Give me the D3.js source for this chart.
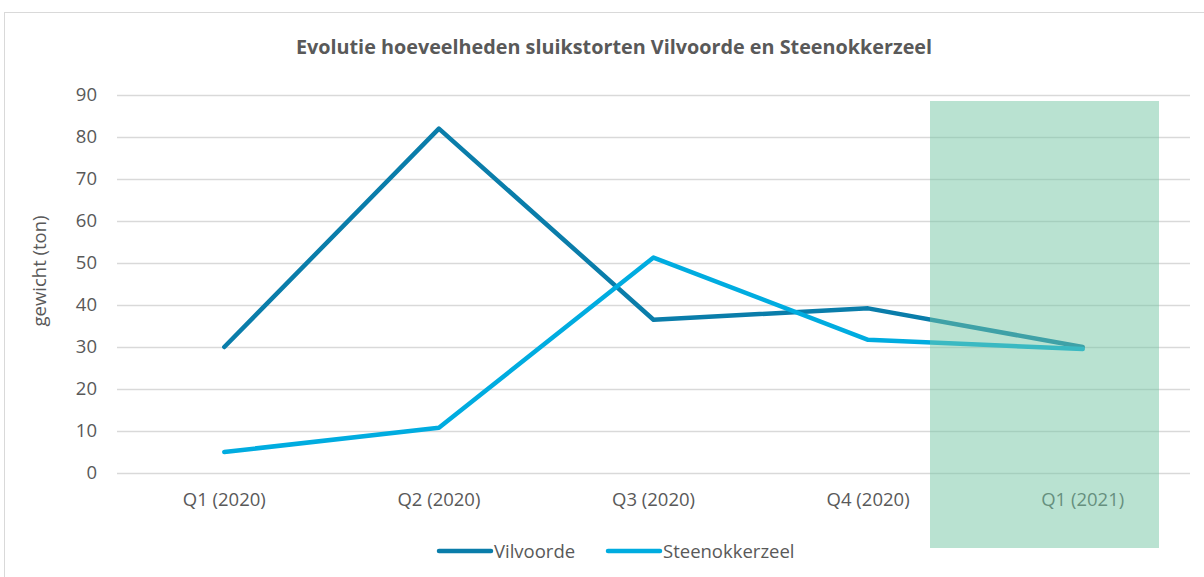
<!DOCTYPE html>
<html>
<head>
<meta charset="utf-8">
<script src="https://cdn.jsdelivr.net/npm/d3@7"></script>
<style>
  body { margin: 0; background: #fff; }
  text { font-family: "Open Sans", sans-serif; fill: #595959; }
</style>
</head>
<body>
<div id="chart-area"></div>
<script>
// data
var quarters = ["Q1 (2020)", "Q2 (2020)", "Q3 (2020)", "Q4 (2020)", "Q1 (2021)"];
var vilvoorde = [30, 82, 36.5, 39.2, 30];
var steenokkerzeel = [5, 10.8, 51.3, 31.7, 29.5];
var yTicks = [0, 10, 20, 30, 40, 50, 60, 70, 80, 90];
var seriesNames = ["Vilvoorde", "Steenokkerzeel"];
var colors = ["#0a7daa", "#00ace0"];

var W = 1204, H = 577;
var margin = { left: 117, right: 14, top: 95, bottom: 104 };
var labelSize = "18.5px";

var svg = d3.select("#chart-area")
    .append("svg")
        .attr("width", W)
        .attr("height", H);

// chart frame
svg.append("rect")
    .attr("x", 4.5).attr("y", 12.5)
    .attr("width", W + 20).attr("height", H + 20)
    .attr("fill", "none")
    .attr("stroke", "#d9d9d9");

var x = d3.scaleBand()
    .domain(quarters)
    .range([margin.left, W - margin.right]);
var y = d3.scaleLinear()
    .domain([0, 90])
    .range([H - margin.bottom, margin.top]);

// title
svg.append("text")
    .attr("x", 614)
    .attr("y", 54)
    .attr("text-anchor", "middle")
    .attr("font-size", "19.8px")
    .attr("font-weight", "bold")
    .text("Evolutie hoeveelheden sluikstorten Vilvoorde en Steenokkerzeel");

// gridlines
svg.append("g").selectAll("line")
    .data(yTicks)
    .enter().append("line")
        .attr("x1", margin.left)
        .attr("x2", W - margin.right)
        .attr("y1", function(d){ return Math.round(y(d)) + 0.5; })
        .attr("y2", function(d){ return Math.round(y(d)) + 0.5; })
        .attr("stroke", "#d9d9d9")
        .attr("stroke-width", 1.5);

// y axis labels
var yAxisCall = d3.axisLeft(y).tickValues(yTicks).tickSize(0).tickPadding(0);
var yAxis = svg.append("g")
    .attr("transform", "translate(97,0)")
    .call(yAxisCall);
yAxis.select(".domain").remove();
yAxis.selectAll("text")
    .attr("font-size", labelSize)
    .attr("font-family", "\"Open Sans\", sans-serif")
    .style("fill", "#595959");

// x axis labels
var xAxisCall = d3.axisBottom(x).tickSize(0).tickPadding(0);
var xAxis = svg.append("g")
    .attr("transform", "translate(0," + (H - margin.bottom + 20) + ")")
    .call(xAxisCall);
xAxis.select(".domain").remove();
xAxis.selectAll("text")
    .attr("font-size", labelSize)
    .attr("font-family", "\"Open Sans\", sans-serif")
    .style("fill", "#595959");

// y label
svg.append("text")
    .attr("transform", "rotate(-90)")
    .attr("x", -271)
    .attr("y", 46)
    .attr("text-anchor", "middle")
    .attr("font-size", labelSize)
    .text("gewicht (ton)");

// lines
var line = d3.line()
    .x(function(d, i){ return x(quarters[i]) + x.bandwidth() / 2; })
    .y(function(d){ return y(d); });

[vilvoorde, steenokkerzeel].forEach(function(values, i) {
    svg.append("path")
        .datum(values)
        .attr("d", line)
        .attr("fill", "none")
        .attr("stroke", colors[i])
        .attr("stroke-width", 4.5)
        .attr("stroke-linecap", "round")
        .attr("stroke-linejoin", "round");
});

// legend
var legendPos = [437, 606];
seriesNames.forEach(function(name, i) {
    var row = svg.append("g")
        .attr("transform", "translate(" + legendPos[i] + ",551)");
    row.append("line")
        .attr("x1", 2).attr("x2", 54)
        .attr("stroke", colors[i])
        .attr("stroke-width", 4.5)
        .attr("stroke-linecap", "round");
    row.append("text")
        .attr("x", 57)
        .attr("y", 7)
        .attr("font-size", labelSize)
        .text(name);
});

// highlight last quarter
svg.append("rect")
    .attr("x", 930)
    .attr("y", 101)
    .attr("width", 229)
    .attr("height", 447)
    .attr("fill", "rgb(115,197,163)")
    .attr("opacity", 0.5);
</script>
</body>
</html>
